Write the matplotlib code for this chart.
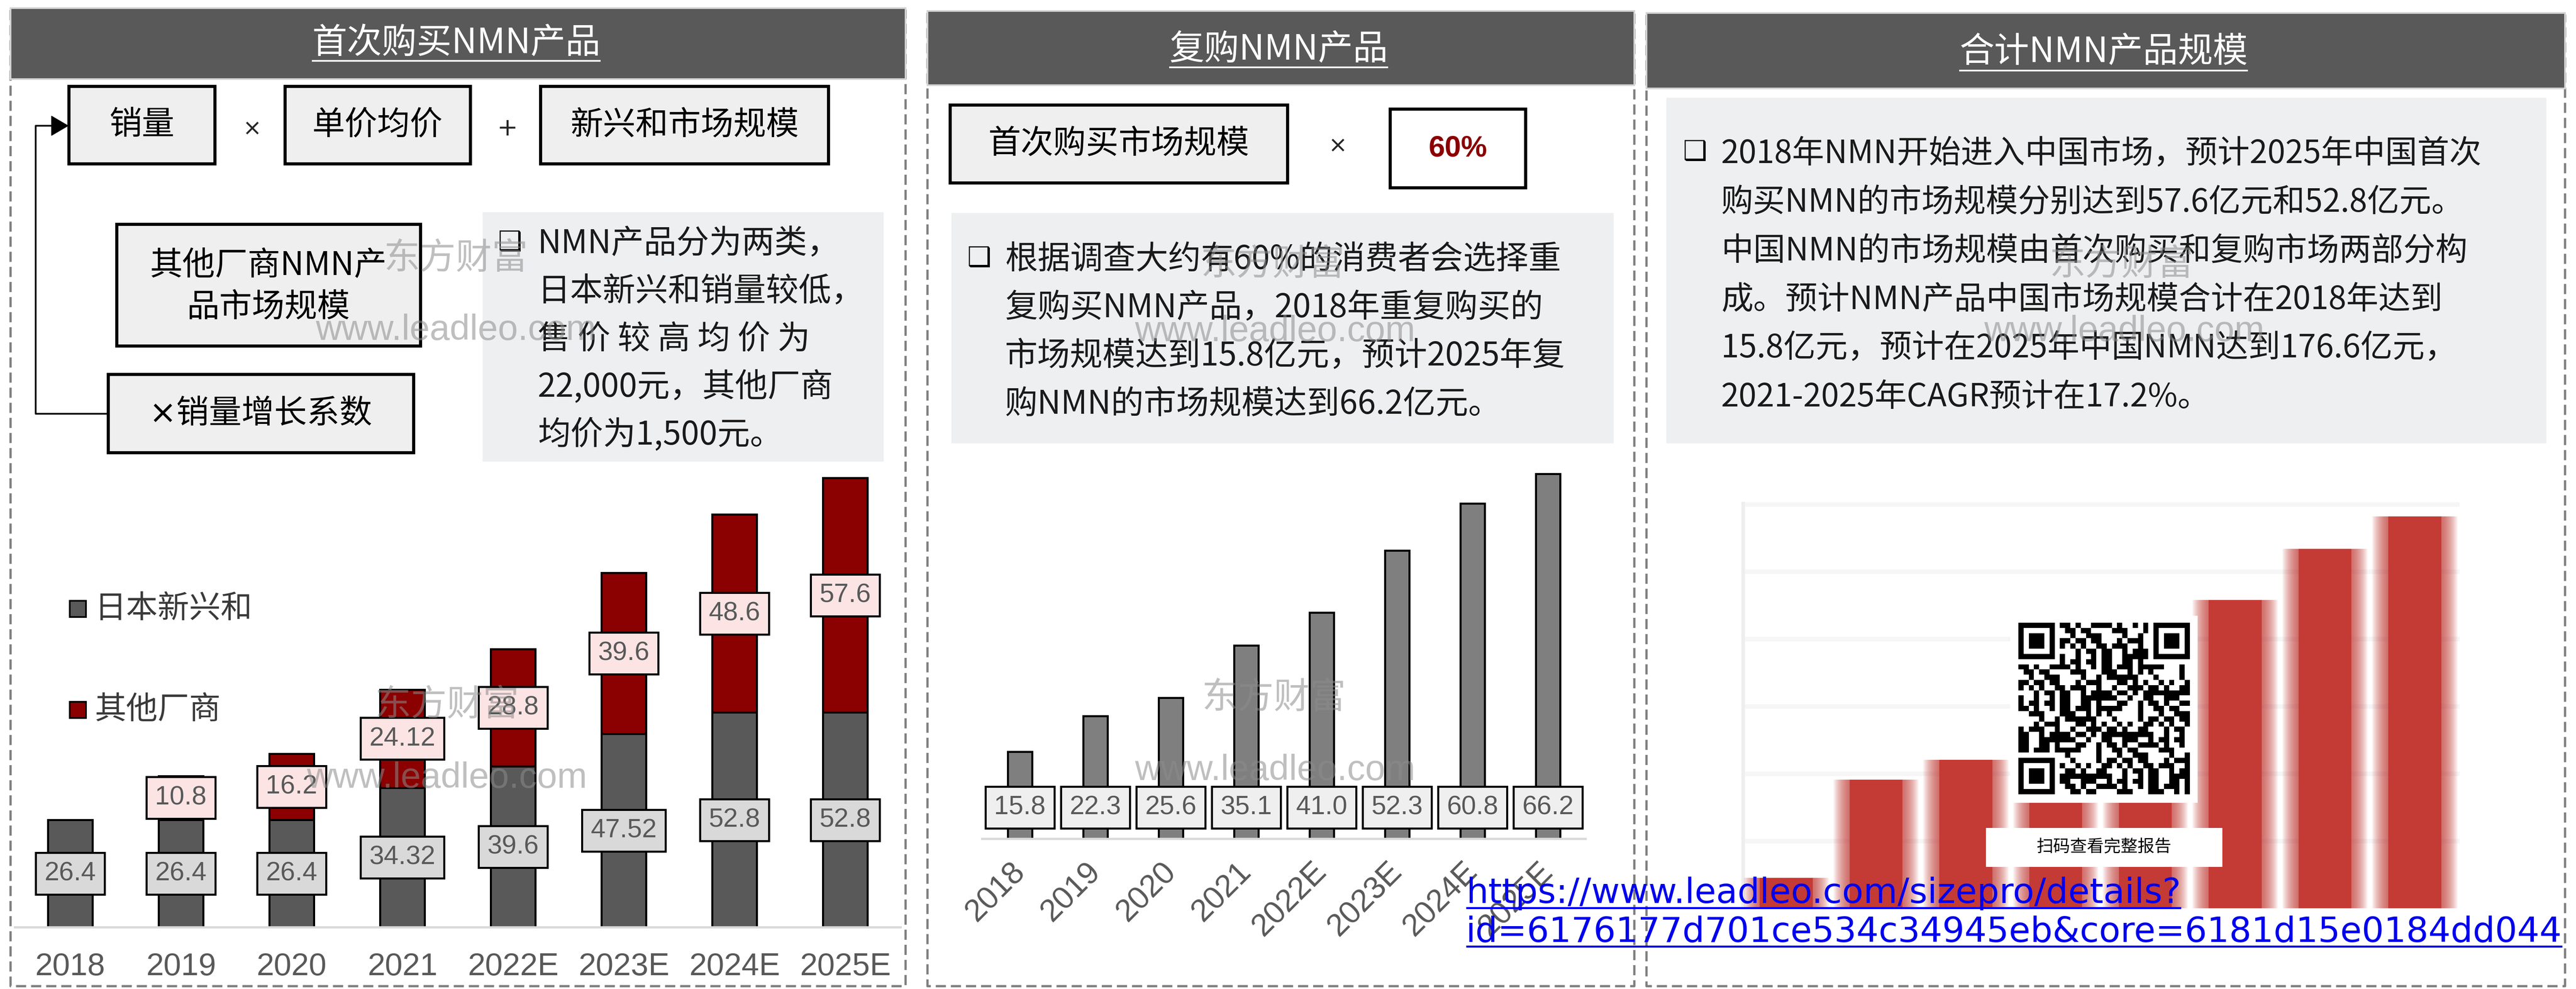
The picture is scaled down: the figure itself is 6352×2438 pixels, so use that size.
import hashlib
import numpy as np
import matplotlib
matplotlib.use('Agg')
import matplotlib.pyplot as plt
from matplotlib.patches import Rectangle, Polygon

W, H = 6352, 2438
CJK = ['Noto Sans CJK SC', 'DejaVu Sans']
NUM = ['Liberation Sans', 'Noto Sans CJK SC', 'DejaVu Sans']
plt.rcParams['font.family'] = CJK

# ---- data ----
years = ['2018', '2019', '2020', '2021', '2022E', '2023E', '2024E', '2025E']
first_jp = [26.4, 26.4, 26.4, 34.32, 39.6, 47.52, 52.8, 52.8]      # 日本新兴和
first_other = [0, 10.8, 16.2, 24.12, 28.8, 39.6, 48.6, 57.6]       # 其他厂商
repeat = [15.8, 22.3, 25.6, 35.1, 41.0, 52.3, 60.8, 66.2]           # 复购
total = [15.8, 59.5, 68.2, 93.5, 109.4, 139.4, 162.2, 176.6]         # 合计 (blurred)
series_names = ['日本新兴和', '其他厂商']
titles = ['首次购买NMN产品', '复购NMN产品', '合计NMN产品规模']
text1 = ['NMN产品分为两类，', '日本新兴和销量较低，', '售 价 较 高 均 价 为',
         '22,000元，其他厂商', '均价为1,500元。']
text2 = ['根据调查大约有60%的消费者会选择重', '复购买NMN产品，2018年重复购买的',
         '市场规模达到15.8亿元，预计2025年复', '购NMN的市场规模达到66.2亿元。']
text3 = ['2018年NMN开始进入中国市场，预计2025年中国首次',
         '购买NMN的市场规模分别达到57.6亿元和52.8亿元。',
         '中国NMN的市场规模由首次购买和复购市场两部分构',
         '成。预计NMN产品中国市场规模合计在2018年达到',
         '15.8亿元，预计在2025年中国NMN达到176.6亿元，',
         '2021-2025年CAGR预计在17.2%。']
link = ['https://www.leadleo.com/sizepro/details?',
        'id=6176177d701ce534c34945eb&core=6181d15e0184dd044']

GRAY_BAR = '#595959'
RED_BAR = '#8b0000'
TXT = '#1a1a1a'

fig = plt.figure(figsize=(W / 100, H / 100), dpi=100)
bg = fig.add_axes([0, 0, 1, 1])
bg.set_xlim(0, W); bg.set_ylim(H, 0); bg.axis('off')


def px_axes(x0, x1, y_top, y_bot, z=1):
    return fig.add_axes([x0 / W, 1 - y_bot / H, (x1 - x0) / W, (y_bot - y_top) / H], zorder=z)


def box(ax, x0, y0, x1, y1, fc, ec='black', lw=5.5, z=2):
    ax.add_patch(Rectangle((x0, y0), x1 - x0, y1 - y0, facecolor=fc,
                           edgecolor=ec if ec else 'none', linewidth=lw, zorder=z))


underlines = []

# ---- panels: dashed frame + header ----
panels = [(26, 2233, 20, 195, 1125, 107, 150),
          (2287, 4030, 27, 210, 3153, 122, 166),
          (4060, 6325, 32, 218, 5187, 128, 174)]
for (x0, x1, hy0, hy1, tx, ty, uy), title in zip(panels, titles):
    bg.plot([x0, x0, x1, x1, x0], [hy0 + 5, 2431, 2431, hy0 + 5, hy0 + 5], color='#7f7f7f',
            lw=4, dashes=(4.5, 2.2), zorder=1)
    box(bg, x0, hy0, x1, hy1, '#595959', ec='#d4d4d4', lw=3, z=3)
    t = bg.text(tx, ty, title, color='white', fontsize=62, ha='center', va='center', zorder=4)
    underlines.append((bg, t, uy, 'white', 3))

# ---- panel 1 flow boxes ----
box(bg, 170, 213, 530, 404, '#efefef')
bg.text(350, 308, '销量', fontsize=58, ha='center', va='center', color='black', zorder=3)
bg.text(622, 318, '×', fontsize=40, ha='center', va='center', color='#262626', family='DejaVu Sans')
box(bg, 703, 213, 1160, 404, '#efefef')
bg.text(931, 308, '单价均价', fontsize=58, ha='center', va='center', color='black', zorder=3)
bg.text(1251, 318, '+', fontsize=44, ha='center', va='center', color='#262626', family='DejaVu Sans')
box(bg, 1333, 213, 2043, 404, '#efefef')
bg.text(1688, 308, '新兴和市场规模', fontsize=58, ha='center', va='center', color='black', zorder=3)
box(bg, 288, 553, 1037, 853, '#efefef')
bg.text(662, 654, '其他厂商NMN产', fontsize=58, ha='center', va='center', color='black', zorder=3)
bg.text(662, 757, '品市场规模', fontsize=58, ha='center', va='center', color='black', zorder=3)
box(bg, 267, 923, 1020, 1116, '#efefef')
bg.text(643, 1020, '×销量增长系数', fontsize=58, ha='center', va='center', color='black', zorder=3,
        family=['DejaVu Sans', 'Noto Sans CJK SC'])
# connector with arrow
bg.plot([267, 88, 88, 130], [1020, 1020, 310, 310], color='black', lw=3, zorder=2)
bg.add_patch(Polygon([[127, 286], [127, 334], [168, 310]], closed=True, fc='black', ec='black', zorder=3))

# paragraph boxes
box(bg, 1190, 523, 2179, 1138, '#eeeff1', ec=None, z=1)
bg.text(1258, 598, '❑', fontsize=48, ha='center', va='center', color='black', family='DejaVu Sans',
        fontweight='bold', zorder=3)
for i, s in enumerate(text1):
    bg.text(1326, 600 + i * 118, s, fontsize=58, ha='left', va='center', color=TXT, zorder=3)

# ---- panel 2 flow boxes ----
box(bg, 2343, 259, 3175, 451, '#efefef')
bg.text(2759, 355, '首次购买市场规模', fontsize=58, ha='center', va='center', color='black', zorder=3)
bg.text(3299, 360, '×', fontsize=40, ha='center', va='center', color='#262626', family='DejaVu Sans')
box(bg, 3428, 269, 3762, 463, 'white')
bg.text(3595, 366, '60%', fontsize=52, ha='center', va='center', color=RED_BAR,
        family=NUM, fontweight='bold', zorder=3)
box(bg, 2346, 525, 3979, 1093, '#eeeff1', ec=None, z=1)
bg.text(2415, 637, '❑', fontsize=48, ha='center', va='center', color='black', family='DejaVu Sans',
        fontweight='bold', zorder=3)
for i, s in enumerate(text2):
    bg.text(2478, 639 + i * 119, s, fontsize=58, ha='left', va='center', color=TXT, zorder=3)

# ---- panel 3 text ----
box(bg, 4109, 241, 6279, 1093, '#eeeff1', ec=None, z=1)
bg.text(4180, 375, '❑', fontsize=48, ha='center', va='center', color='black', family='DejaVu Sans',
        fontweight='bold', zorder=3)
for i, s in enumerate(text3):
    bg.text(4244, 379 + i * 120, s, fontsize=57, ha='left', va='center', color=TXT, zorder=3)

# ---- chart 1: stacked bars ----
x = np.arange(len(years))
ax1 = px_axes(36.5, 2220.5, 1162, 2286)
ax1.bar(x, first_jp, width=0.4, color=GRAY_BAR, edgecolor='black', linewidth=3.6, zorder=2)
idx = [i for i in x if first_other[i] > 0]
ax1.bar(idx, [first_other[i] for i in idx], bottom=[first_jp[i] for i in idx], width=0.4,
        color=RED_BAR, edgecolor='black', linewidth=3.6, zorder=2)
for i in x:
    ax1.text(i, first_jp[i] / 2, f'{first_jp[i]:g}', ha='center', va='center', fontsize=47,
             color='#595959', family=NUM, zorder=5,
             bbox=dict(boxstyle='square,pad=0.33', fc='#d9d9d9', ec='black', lw=3.6))
    if first_other[i] > 0:
        ax1.text(i, first_jp[i] + first_other[i] / 2, f'{first_other[i]:g}', ha='center', va='center',
                 fontsize=47, color='#595959', family=NUM, zorder=5,
                 bbox=dict(boxstyle='square,pad=0.33', fc='#fce4e4', ec='black', lw=3.6))
ax1.set_xlim(-0.5, len(years) - 0.5)
ax1.set_ylim(0, 112)
ax1.set_facecolor('none')
for sp in ['top', 'left', 'right']:
    ax1.spines[sp].set_visible(False)
ax1.spines['bottom'].set_color('#d9d9d9')
ax1.spines['bottom'].set_linewidth(4)
ax1.set_yticks([])
ax1.set_xticks(x)
ax1.set_xticklabels(years, fontsize=56, color='#595959', family=NUM)
ax1.tick_params(axis='x', length=0, pad=44)

# legend (manual)
for k, (name, col) in enumerate(zip(series_names, [GRAY_BAR, RED_BAR])):
    yc = 1501 + k * 249
    box(bg, 172, yc - 20, 212, yc + 20, col, lw=3, z=3)
    bg.text(233, yc, name, fontsize=56, ha='left', va='center', color='#3a3a3a', zorder=3)

# ---- chart 2: repeat purchase bars ----
ax2 = px_axes(2422, 3910, 1116, 2068)
ax2.bar(x, repeat, width=0.32, color='#7f7f7f', edgecolor='black', linewidth=3.6, zorder=2)
for i in x:
    ax2.text(i, 5.7, f'{repeat[i]:.1f}', ha='center', va='center', fontsize=47, color='#595959',
             family=NUM, zorder=5,
             bbox=dict(boxstyle='square,pad=0.33', fc='#efefef', ec='black', lw=3.6))
ax2.set_xlim(-0.5, len(years) - 0.5)
ax2.set_ylim(0, 70)
ax2.set_facecolor('none')
for sp in ['top', 'left', 'right']:
    ax2.spines[sp].set_visible(False)
ax2.spines['bottom'].set_color('#d9d9d9')
ax2.spines['bottom'].set_linewidth(4)
ax2.set_yticks([])
ax2.set_xticks(x)
ax2.set_xticklabels(years, fontsize=56, color='#595959', family=NUM, rotation=45,
                    ha='right', va='center', rotation_mode='anchor')
ax2.tick_params(axis='x', length=0, pad=50)

# ---- chart 3: blurred total bars ----
ax3 = px_axes(4294, 6065, 1237, 2239)
ax3.set_xlim(-0.5, len(years) - 0.5)
ax3.set_ylim(0, 181)
ux = 1 / 221.3   # data units per pixel (x)
uy = 1 / 5.53    # data units per pixel (y)
core_w = 0.77 - 40 * ux
ax3.bar(x, [v - 12 * uy for v in total], width=core_w, color='#c43a35', zorder=3)
for k in range(1, 21):
    s = k * 2
    ax3.bar(x, [v - 12 * uy + s * uy for v in total], width=core_w + 2 * s * ux,
            bottom=-s * uy, color='#c43a35', alpha=0.06, linewidth=0, zorder=2)
for g in [30, 60, 90, 120, 150, 180]:
    ax3.axhline(g, color='#f6f6f6', lw=8, zorder=1)
ax3.axis('off')
ax3.plot([-0.48, -0.48], [0, 181], color='#eeeeee', lw=7, zorder=1)

# ---- overlay: QR block, link, watermarks ----
top = fig.add_axes([0, 0, 1, 1], zorder=10)
top.set_facecolor('none'); top.axis('off')

box(top, 4957, 1518, 5419, 1979, 'white', ec=None, z=2)
n = 33
seed = hashlib.sha256(link[1].encode()).digest()
mods = np.unpackbits(np.frombuffer(seed * 40, dtype=np.uint8))[:n * n].reshape(n, n).astype(float)
for r0, c0 in [(0, 0), (0, n - 7), (n - 7, 0)]:
    rr = slice(max(r0 - 1, 0), min(r0 + 8, n)); cc = slice(max(c0 - 1, 0), min(c0 + 8, n))
    mods[rr, cc] = 0
    mods[r0:r0 + 7, c0:c0 + 7] = 1
    mods[r0 + 1:r0 + 6, c0 + 1:c0 + 6] = 0
    mods[r0 + 2:r0 + 5, c0 + 2:c0 + 5] = 1
top.imshow(1 - mods, cmap='gray', vmin=0, vmax=1, extent=(4977, 5400, 1958, 1535),
           interpolation='nearest', aspect='auto', zorder=3)
box(top, 4897, 2041, 5480, 2137, 'white', ec=None, z=2)
top.text(5188, 2089, '扫码查看完整报告', fontsize=30, ha='center', va='center', color='black', zorder=3)

for k, s in enumerate(link):
    t = top.text(3615, 2226 + k * 95, s, fontsize=62, ha='left', va='baseline', color='#0000ee',
                 family='DejaVu Sans', zorder=6)
    underlines.append((top, t, 2226 + k * 95 + 12, '#0000ee', 3.6))

marks = [(1124, 639, '东方财富'), (1124, 815, 'www.leadleo.com'),
         (1102, 1740, '东方财富'), (1102, 1919, 'www.leadleo.com'),
         (3138, 654, '东方财富'), (3144, 818, 'www.leadleo.com'),
         (3141, 1722, '东方财富'), (3144, 1900, 'www.leadleo.com'),
         (5231, 654, '东方财富'), (5238, 818, 'www.leadleo.com')]
for mx, my, s in marks:
    fam = CJK if s.startswith('东') else NUM
    top.text(mx, my, s, fontsize=64, ha='center', va='center', color='#8c8c8c', alpha=0.55,
             family=fam, zorder=5)

top.set_xlim(0, W); top.set_ylim(H, 0)

# ---- underlines ----
renderer = fig.canvas.get_renderer()
for ax, t, y, col, lw in underlines:
    bb = t.get_window_extent(renderer=renderer)
    ax.plot([bb.x0, min(bb.x1, W)], [y, y], color=col, lw=lw, zorder=6, solid_capstyle='butt')

fig.savefig('out.png', dpi=100)
